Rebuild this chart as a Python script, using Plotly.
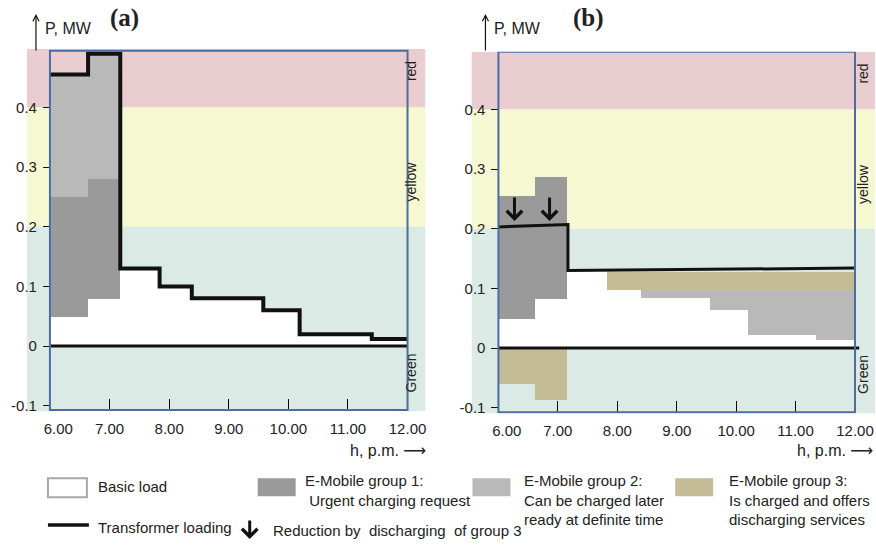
import plotly.graph_objects as go

# ---------------- data ----------------
# panel (a): uncontrolled charging
edges_a = [6.0, 6.64, 7.18, 7.84, 8.38, 9.58, 10.19, 11.40, 12.0]
basic_a = [0.05, 0.08, 0.13, 0.10, 0.08, 0.06, 0.02, 0.012]
group1_top_a = [0.25, 0.28]          # first two intervals
group2_top_a = [0.455, 0.49]         # first two intervals
loading_a = [0.455, 0.49, 0.13, 0.10, 0.08, 0.06, 0.02, 0.012]

# panel (b): controlled charging with discharging of group 3
edges_b = [6.0, 6.63, 7.16, 7.84, 8.40, 9.57, 10.21, 11.35, 12.0]
basic_b = [0.05, 0.083, 0.13, 0.097, 0.085, 0.064, 0.022, 0.014]
group1_top_b = [0.256, 0.288]        # intervals 0-1
group2_top_b = [0.097, 0.097, 0.097, 0.097]   # intervals 4-7
group3_top_b = [0.128, 0.128, 0.128, 0.128, 0.128]  # intervals 3-7
group3_neg_b = [-0.059, -0.086]      # intervals 0-1 (discharging)
loading_b_x = [6.0, 7.17, 7.17, 12.0]
loading_b_y = [0.203, 0.207, 0.130, 0.134]
arrow_x_b = [6.27, 6.86]
arrow_from_b = 0.255
arrow_to_b = 0.213

hours = [6, 7, 8, 9, 10, 11, 12]
hour_labels = ["\u00a0\u00a0\u00a0\u00a06.00", "7.00", "8.00", "9.00", "10.00", "11.00", "12.00"]
p_ticks = [-0.1, 0, 0.1, 0.2, 0.3, 0.4]
p_labels = ["-0.1", "0", "0.1", "0.2", "0.3", "0.4"]

# ---------------- styling ----------------
W, H = 876, 546
FONT = "Liberation Sans, Arial, sans-serif"
C_BASIC = "#ffffff"
C_G1 = "#9a9a9a"
C_G2 = "#b9b9b9"
C_G3 = "#c4bc96"
C_RED = "#eacdd0"
C_YEL = "#f5f8d0"
C_GRN = "#dbeae4"
C_BOX = "#4a6da3"


def px(x):
    return x / W


def py(y):
    return 1 - y / H


def bars(edges, idx, bottoms, tops, color, xa, ya):
    xs = [(edges[i] + edges[i + 1]) / 2 for i in idx]
    ws = [edges[i + 1] - edges[i] for i in idx]
    return go.Bar(x=xs, y=[t - b for b, t in zip(bottoms, tops)], base=bottoms,
                  width=ws, marker=dict(color=color, line=dict(width=0)),
                  xaxis=xa, yaxis=ya, showlegend=False, hoverinfo="skip")


fig = go.Figure()

# ---- panel (a)
fig.add_trace(bars(edges_a, range(8), [0] * 8, basic_a, C_BASIC, "x", "y"))
fig.add_trace(bars(edges_a, [0, 1], basic_a[:2], group1_top_a, C_G1, "x", "y"))
fig.add_trace(bars(edges_a, [0, 1], group1_top_a, group2_top_a, C_G2, "x", "y"))
fig.add_trace(go.Scatter(x=edges_a, y=loading_a + [loading_a[-1]], mode="lines",
                         line=dict(color="#111111", width=4, shape="hv"),
                         xaxis="x", yaxis="y", showlegend=False, hoverinfo="skip"))

# ---- panel (b)
fig.add_trace(bars(edges_b, range(8), [0] * 8, basic_b, C_BASIC, "x2", "y2"))
fig.add_trace(bars(edges_b, [0, 1], basic_b[:2], group1_top_b, C_G1, "x2", "y2"))
fig.add_trace(bars(edges_b, [4, 5, 6, 7], basic_b[4:], group2_top_b, C_G2, "x2", "y2"))
fig.add_trace(bars(edges_b, [3, 4, 5, 6, 7], [basic_b[3]] + group2_top_b, group3_top_b, C_G3, "x2", "y2"))
fig.add_trace(bars(edges_b, [0, 1], [0, 0], group3_neg_b, C_G3, "x2", "y2"))
fig.add_trace(go.Scatter(x=loading_b_x, y=loading_b_y, mode="lines",
                         line=dict(color="#111111", width=3),
                         xaxis="x2", yaxis="y2", showlegend=False, hoverinfo="skip"))

# ---- axes geometry (pixels -> paper)
panels = {
    "a": dict(xa="x", ya="y", xdom=(27, 426), box_l=50, box_r=408,
              ydom=(413.5, 49), zero=348, box_top=51, yaxis_x=50, lab_x=421),
    "b": dict(xa="x2", ya="y2", xdom=(472, 876), box_l=499, box_r=856,
              ydom=(415.7, 52), zero=350, box_top=52, yaxis_x=499, lab_x=874),
}
PPU = 600.0  # pixels per MW

shapes = []
annotations = []
layout_axes = {}
for key, p in panels.items():
    sx = (p["box_r"] - p["box_l"]) / 6.0
    xr = [6 - (p["box_l"] - p["xdom"][0]) / sx, 12 + (p["xdom"][1] - p["box_r"]) / sx]
    yr = [(p["zero"] - p["ydom"][0]) / PPU, (p["zero"] - p["ydom"][1]) / PPU]
    top_val = (p["zero"] - p["box_top"]) / PPU
    xname = "xaxis" if p["xa"] == "x" else "xaxis2"
    yname = "yaxis" if p["ya"] == "y" else "yaxis2"
    layout_axes[xname] = dict(
        domain=[px(p["xdom"][0]), px(p["xdom"][1])], range=xr, anchor=p["ya"],
        tickvals=hours, ticktext=hour_labels, ticks="inside", ticklen=12,
        tickcolor="#000", tickwidth=1.3, showgrid=False, zeroline=False,
        showline=False, ticklabelstandoff=7,
        tickfont=dict(family=FONT, size=15, color="#222"), fixedrange=True)
    layout_axes[yname] = dict(
        domain=[py(p["ydom"][0]), py(p["ydom"][1])], range=yr, anchor="free",
        position=px(p["yaxis_x"]), tickvals=p_ticks, ticktext=p_labels,
        ticks="outside", ticklen=7, tickcolor="#111", tickwidth=1,
        showgrid=False, zeroline=False, showline=False, ticklabelstandoff=3,
        tickfont=dict(family=FONT, size=15, color="#222"), fixedrange=True)

    # colour bands
    for y0, y1, c in [(0.4, yr[1], C_RED), (0.2, 0.4, C_YEL), (yr[0], 0.2, C_GRN)]:
        shapes.append(dict(type="rect", xref=p["xa"], yref=p["ya"], x0=xr[0], x1=xr[1],
                           y0=y0, y1=y1, fillcolor=c, line=dict(width=0), layer="below"))
    # zero line
    shapes.append(dict(type="line", xref=p["xa"], yref=p["ya"], x0=6.0, x1=12.0 if key == "a" else 12.07,
                       y0=0, y1=0, line=dict(color="#111", width=3), layer="above"))
    # plot frame
    shapes.append(dict(type="rect", xref=p["xa"], yref=p["ya"], x0=6, x1=12,
                       y0=yr[0] + 0.002, y1=top_val, line=dict(color=C_BOX, width=2),
                       fillcolor="rgba(0,0,0,0)", layer="above"))

    # band names
    for txt, yv in [("red", 0.46), ("yellow", 0.275), ("Green", -0.045)]:
        annotations.append(dict(text=txt, xref="paper", yref=p["ya"], x=px(p["lab_x"]), y=yv,
                                xanchor="right", textangle=-90, showarrow=False,
                                font=dict(family=FONT, size=14, color="#222")))

    # axis titles
    ax_x = 36 if key == "a" else 486
    annotations.append(dict(text="", xref="paper", yref="paper", x=px(ax_x), y=py(14),
                            ax=0, ay=38, showarrow=True, arrowhead=5, arrowwidth=1.2,
                            arrowsize=1, arrowcolor="#111"))
    annotations.append(dict(text="P, MW", xref="paper", yref="paper", x=px(ax_x + 7), y=py(29),
                            xanchor="left", yanchor="middle", showarrow=False,
                            font=dict(family=FONT, size=16, color="#222")))
    annotations.append(dict(text="<b>(a)</b>" if key == "a" else "<b>(b)</b>",
                            xref="paper", yref="paper",
                            x=px(125 if key == "a" else 589), y=py(18), showarrow=False,
                            font=dict(family="Liberation Serif, Times New Roman, serif",
                                      size=25, color="#222"),
                            xanchor="center", yanchor="middle"))
    annotations.append(dict(text="h, p.m. <span style='font-family:DejaVu Sans'>\u27f6</span>",
                            xref="paper", yref="paper",
                            x=px(428 if key == "a" else 876), y=py(453),
                            xanchor="right", yanchor="middle", showarrow=False,
                            font=dict(family=FONT, size=16, color="#222")))

# reduction arrows in panel (b)
for xv in arrow_x_b:
    annotations.append(dict(text="", xref="x2", yref="y2", axref="x2", ayref="y2",
                            x=xv, y=arrow_to_b, ax=xv, ay=arrow_from_b, showarrow=True,
                            arrowhead=4, arrowwidth=3, arrowsize=1, arrowcolor="#111"))

# ---------------- legend ----------------
LF = dict(family=FONT, size=15, color="#222")
shapes.append(dict(type="rect", xref="paper", yref="paper", x0=px(48), x1=px(87),
                   y0=py(500), y1=py(481), fillcolor="#ffffff",
                   line=dict(color="#a8a8a8", width=2)))
for x0, x1, c in [(258, 296, C_G1), (473, 511, C_G2), (676, 714, C_G3)]:
    shapes.append(dict(type="rect", xref="paper", yref="paper", x0=px(x0), x1=px(x1),
                       y0=py(499), y1=py(481), fillcolor=c, line=dict(width=0)))
shapes.append(dict(type="line", xref="paper", yref="paper", x0=px(48), x1=px(89),
                   y0=py(528), y1=py(528), line=dict(color="#111", width=3.5)))

legend_texts = [
    (96, 489, "Basic load"),
    (96, 530, "Transformer loading"),
    (271, 533, "Reduction by\u00a0\u00a0discharging\u00a0\u00a0of group 3"),
]
for x, y, t in legend_texts:
    annotations.append(dict(text=t, xref="paper", yref="paper", x=px(x), y=py(y),
                            xanchor="left", yanchor="middle", showarrow=False, font=LF))

legend_blocks = [
    (303, "E-Mobile group 1:<br>\u00a0Urgent charging request"),
    (523, "E-Mobile group 2:<br>Can be charged later<br>ready at definite time"),
    (728, "E-Mobile group 3:<br>Is charged and offers<br>discharging services"),
]
for x, t in legend_blocks:
    annotations.append(dict(text=t, xref="paper", yref="paper", x=px(x), y=py(473),
                            xanchor="left", yanchor="top", align="left", showarrow=False,
                            font=LF))

annotations.append(dict(text="", xref="paper", yref="paper", x=px(250), y=py(542),
                        ax=0, ay=-20, showarrow=True, arrowhead=4, arrowwidth=3,
                        arrowsize=1, arrowcolor="#111"))

fig.update_layout(
    width=W, height=H, margin=dict(l=0, r=0, t=0, b=0),
    paper_bgcolor="#ffffff", plot_bgcolor="rgba(0,0,0,0)",
    barmode="overlay", bargap=0, showlegend=False,
    shapes=shapes, annotations=annotations, **layout_axes,
)

fig.write_html("out.html", config=dict(displayModeBar=False))
